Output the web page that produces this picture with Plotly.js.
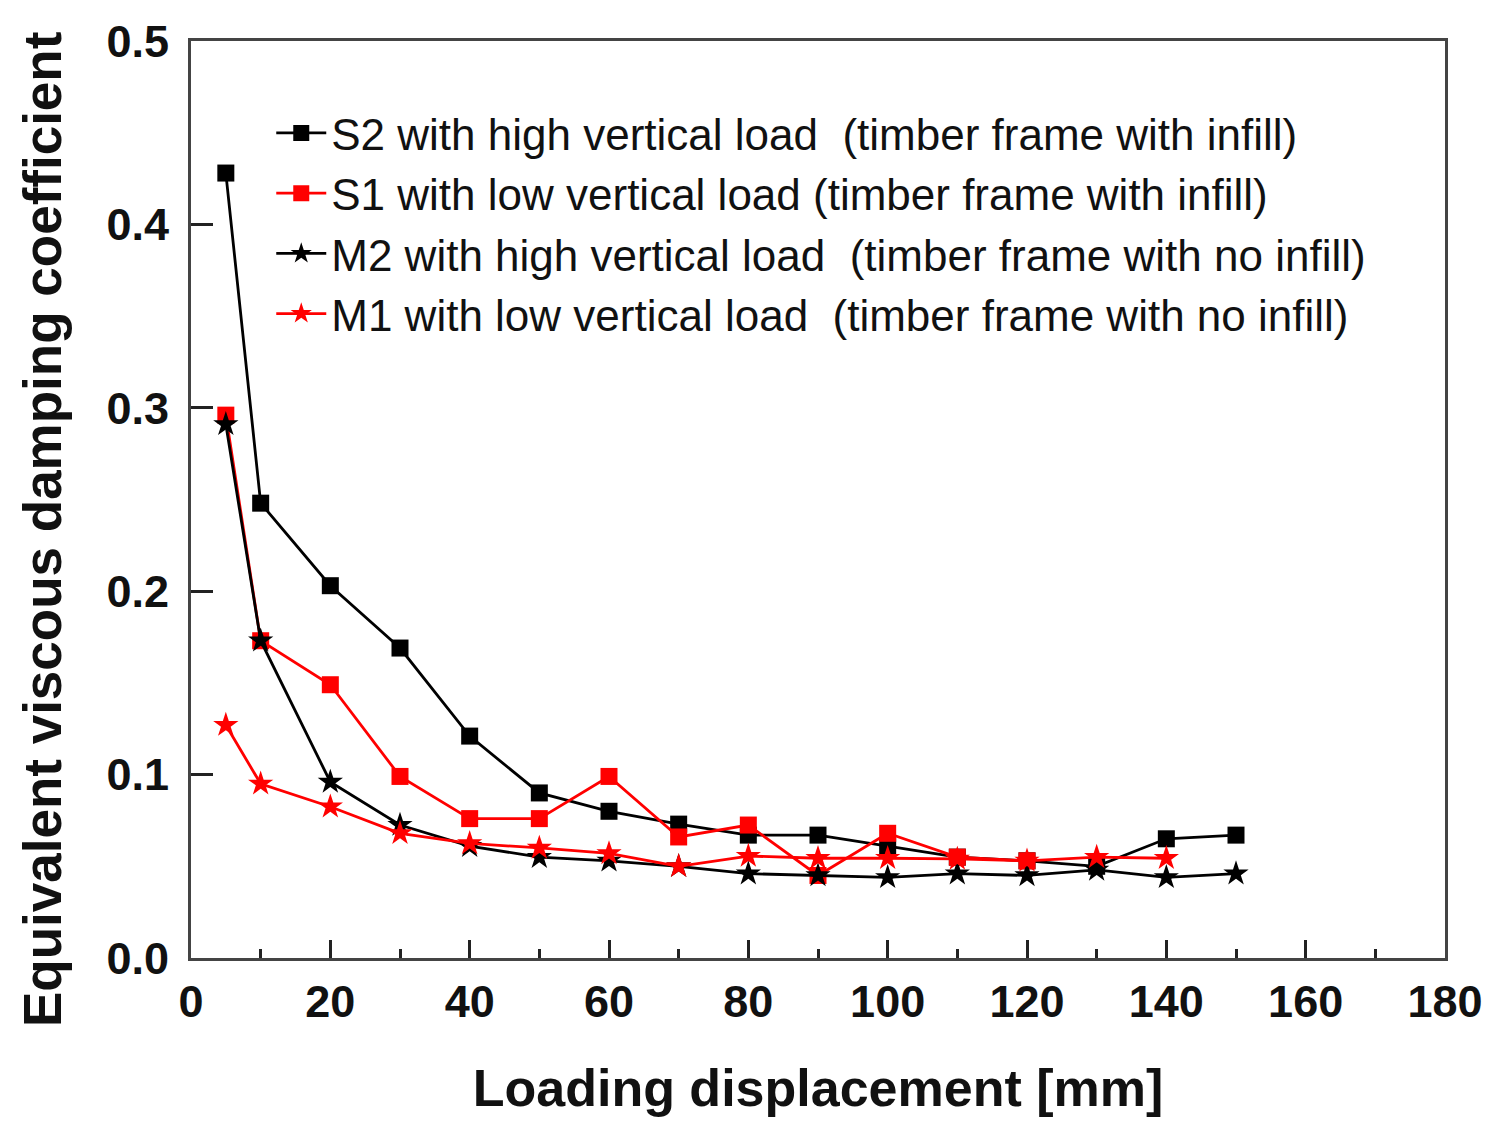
<!DOCTYPE html>
<html>
<head>
<meta charset="utf-8">
<script src="https://cdn.plot.ly/plotly-3.0.1.min.js"></script>
<style>body{margin:0;background:#fff}#chart{width:1492px;height:1130px}</style>
</head>
<body>
<div id="chart"></div>
<script>
const xAll = [5,10,20,30,40,50,60,70,80,90,100,110,120,130,140,150];
const xS1 = [5,10,20,30,40,50,60,70,80,90,100,110,120];
const xM1 = [5,10,20,30,40,50,60,70,80,90,100,110,120,130,140];
const s2 = [0.428,0.248,0.203,0.169,0.121,0.090,0.080,0.073,0.067,0.067,0.061,0.055,0.053,0.050,0.065,0.067];
const s1 = [0.296,0.173,0.149,0.099,0.076,0.076,0.099,0.066,0.0725,0.045,0.068,0.055,0.053];
const m2 = [0.291,0.173,0.096,0.0725,0.061,0.055,0.053,0.050,0.046,0.045,0.044,0.046,0.045,0.048,0.044,0.046];
const m1 = [0.127,0.095,0.0825,0.068,0.0625,0.060,0.057,0.050,0.0556,0.0544,0.0544,0.054,0.053,0.055,0.0544];
const names = [
  'S2 with high vertical load\u00a0\u00a0(timber frame with infill)',
  'S1 with low vertical load (timber frame with infill)',
  'M2 with high vertical load\u00a0\u00a0(timber frame with no infill)',
  'M1 with low vertical load\u00a0\u00a0(timber frame with no infill)'
];
const xTicks = [0,20,40,60,80,100,120,140,160,180];
const yTicks = [0,0.1,0.2,0.3,0.4,0.5];
const xTitle = 'Loading displacement [mm]';
const yTitle = 'Equivalent viscous damping coefficient';

const font = 'Liberation Sans, Arial, sans-serif';
function tr(x, y, name, color, symbol, size) {
  return {x: x, y: y, name: name, type: 'scatter', mode: 'lines+markers',
    line: {color: color, width: 2.8},
    marker: {symbol: symbol, size: size, color: color, line: {width: 0}}};
}
const data = [
  tr(xAll, s2, names[0], '#000000', 'square', 17),
  tr(xS1, s1, names[1], '#ff0000', 'square', 17),
  tr(xAll, m2, names[2], '#000000', 'star', 19),
  tr(xM1, m1, names[3], '#ff0000', 'star', 19)
];
const axisCommon = {
  showgrid: false, zeroline: false, showline: true, mirror: true,
  linecolor: '#444', linewidth: 3, ticks: 'inside', tickcolor: '#222', tickwidth: 3
};
const layout = {
  width: 1492, height: 1130,
  margin: {l: 191, r: 47, t: 41, b: 172},
  paper_bgcolor: '#fff', plot_bgcolor: '#fff',
  showlegend: true,
  legend: {x: 0.064, y: 0.938, xanchor: 'left', yanchor: 'top',
    bgcolor: 'rgba(0,0,0,0)', font: {family: font, size: 44, color: '#111'},
    itemwidth: 50, tracegroupgap: 0},
  xaxis: Object.assign({}, axisCommon, {
    range: [0, 180], tickvals: xTicks, ticklen: 18,
    minor: {dtick: 10, ticks: 'inside', ticklen: 9, tickwidth: 3, tickcolor: '#222'},
    tickfont: {family: font, size: 45, color: '#111', weight: 'bold'},
    ticklabelstandoff: 2,
    title: {text: xTitle, standoff: 44,
      font: {family: font, size: 52, color: '#111', weight: 'bold'}}
  }),
  yaxis: Object.assign({}, axisCommon, {
    range: [0, 0.5], tickvals: yTicks, tickformat: '.1f', ticklen: 22,
    tickfont: {family: font, size: 45, color: '#111', weight: 'bold'},
    ticklabelstandoff: 10
  }),
  annotations: [{
    text: yTitle, xref: 'paper', yref: 'paper', x: -0.1188, y: 0.4667,
    xanchor: 'center', yanchor: 'middle', textangle: -90, showarrow: false,
    font: {family: font, size: 53, color: '#111', weight: 'bold'}
  }]
};
Plotly.newPlot('chart', data, layout, {displayModeBar: false});
</script>
</body>
</html>
